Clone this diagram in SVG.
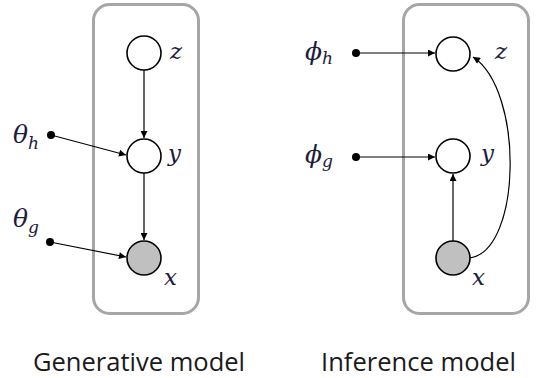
<svg xmlns="http://www.w3.org/2000/svg" width="554" height="378" viewBox="0 0 554 378">
<style>
.plate{fill:none;stroke:#a6a6a6;stroke-width:3}
.node{fill:#fff;stroke:#000;stroke-width:1.6}
.obs{fill:#c0c0c0;stroke:#000;stroke-width:1.6}
.edge{fill:none;stroke:#000;stroke-width:1.2}
.dot{fill:#000}
.var{font-family:"DejaVu Serif","Liberation Serif",serif;font-style:italic;fill:#1c1c3c;font-size:23px}
.gk{font-size:25px}
.sub{font-size:17px}
.cap{font-family:"Open Sans","Noto Sans",sans-serif;font-size:25px;fill:#1a1a1a}
</style>
<defs>
<marker id="ah" viewBox="0 0 10 10" refX="10" refY="5" markerWidth="8" markerHeight="7" markerUnits="userSpaceOnUse" orient="auto">
<path d="M0,0 L10,5 L0,10 z" fill="#000"/>
</marker>
</defs>
<rect class="plate" x="93.5" y="4.5" width="105" height="309" rx="16"/>
<rect class="plate" x="403.5" y="4.5" width="125" height="309" rx="16"/>
<g id="connectors">
<line class="edge" x1="144" y1="70" x2="144" y2="138" marker-end="url(#ah)"/>
<line class="edge" x1="144" y1="173" x2="144" y2="240" marker-end="url(#ah)"/>
<line class="edge" x1="51" y1="135" x2="126" y2="155" marker-end="url(#ah)"/>
<line class="edge" x1="50" y1="242" x2="126" y2="257" marker-end="url(#ah)"/>
<line class="edge" x1="356" y1="53" x2="435" y2="53" marker-end="url(#ah)"/>
<line class="edge" x1="356" y1="157" x2="435" y2="157" marker-end="url(#ah)"/>
<line class="edge" x1="453" y1="241" x2="453" y2="174" marker-end="url(#ah)"/>
<path class="edge" d="M470,258 C522,250 524,90 473,57" marker-end="url(#ah)"/>
<circle class="dot" cx="51" cy="135" r="4"/>
<circle class="dot" cx="50" cy="242" r="4"/>
<circle class="dot" cx="356" cy="53" r="4"/>
<circle class="dot" cx="356" cy="157" r="4"/>
</g>
<g id="gen-z"><circle class="node" cx="144" cy="53" r="17"/><text class="var" x="170" y="59">z</text></g>
<g id="gen-y"><circle class="node" cx="144" cy="156" r="17"/><text class="var" x="168" y="161">y</text></g>
<g id="gen-x"><circle class="obs" cx="144" cy="258" r="17"/><text class="var" x="164" y="285">x</text></g>
<g id="theta-h"><text class="var gk" x="13" y="143">θ<tspan class="sub" dy="6">h</tspan></text></g>
<g id="theta-g"><text class="var gk" x="13" y="227">θ<tspan class="sub" dy="6">g</tspan></text></g>
<g id="inf-z"><circle class="node" cx="453" cy="54" r="17"/><text class="var" x="495" y="59">z</text></g>
<g id="inf-y"><circle class="node" cx="453" cy="156" r="17"/><text class="var" x="481" y="161">y</text></g>
<g id="inf-x"><circle class="obs" cx="453" cy="258" r="17"/><text class="var" x="472" y="285">x</text></g>
<g id="phi-h"><text class="var gk" x="305" y="60">ϕ<tspan class="sub" dy="4">h</tspan></text></g>
<g id="phi-g"><text class="var gk" x="305" y="163">ϕ<tspan class="sub" dy="4">g</tspan></text></g>
<text class="cap" x="33" y="371" textLength="212" lengthAdjust="spacingAndGlyphs">Generative model</text>
<text class="cap" x="321" y="371" textLength="195" lengthAdjust="spacingAndGlyphs">Inference model</text>
</svg>
